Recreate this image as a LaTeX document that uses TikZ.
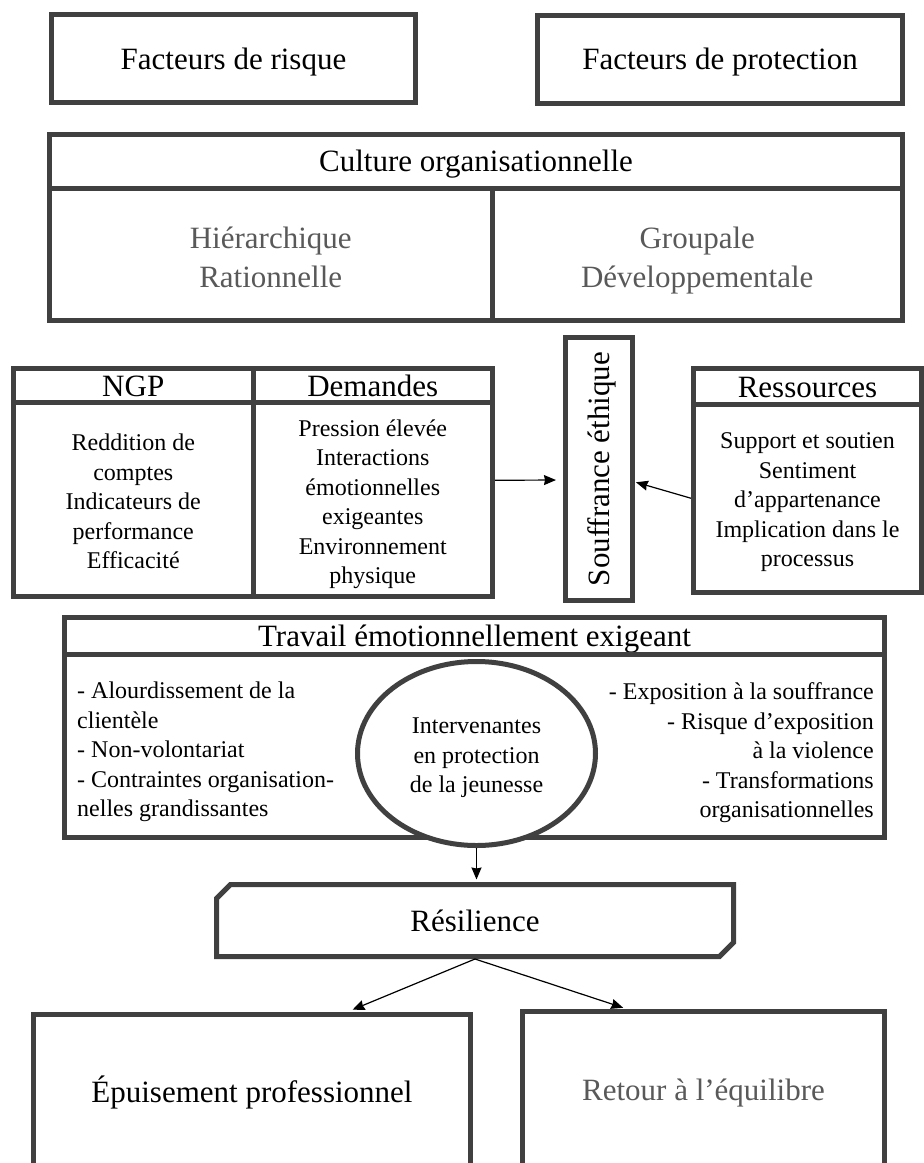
\documentclass[tikz,border=0pt]{standalone}
\usepackage{fontspec}
\setmainfont{Liberation Serif}
\usepackage{xcolor}
\usepackage{tikz}
\usetikzlibrary{shapes.geometric, shapes.misc, arrows.meta}

\definecolor{cadre}{HTML}{404040}
\definecolor{texgris}{HTML}{595959}
\newcommand{\grand}{\fontsize{31}{39}\selectfont}
\newcommand{\petit}{\fontsize{24}{29.5}\selectfont}
\newcommand{\calegrand}{\rule[-5.6pt]{0pt}{33.5pt}}
\newcommand{\calepetit}{\rule[-4.3pt]{0pt}{25.9pt}}

\tikzset{
	trait/.style = {draw = cadre, line width = 5pt, inner sep = 0pt, align = center},
	boite/.style = {trait, font = \grand, execute at begin node = \calegrand, execute at end node = \calegrand},
	corps/.style = {trait, font = \petit, execute at begin node = \calepetit, execute at end node = \calepetit},
	texte/.style = {inner sep = 0pt, font = \petit},
	lignes/.style = {text height = #1, text depth = 0pt},
	fleche/.style = {-{Stealth[length = 12pt, width = 10pt, inset = 1pt]}, line width = 1.2pt}
}

\begin{document}
\begin{tikzpicture}[x = 1pt, y = -1pt]
		\useasboundingbox (0,0) rectangle (924,1163);
		
		\node [boite, minimum width = 364pt, minimum height = 88pt] (risque) at (233.5,58.5) {Facteurs de risque};
		\node [boite, minimum width = 365pt, minimum height = 88pt] (protection) at (720,59) {Facteurs de protection};
		
		\node [boite, minimum width = 853pt, minimum height = 53.5pt] (culture) at (476,161.25) {Culture organisationnelle};
		\node [boite, lignes = 67pt, text = texgris, minimum width = 442.5pt, minimum height = 132.5pt] (hierarchique) at (270.75,254.25) {Hiérarchique\\Rationnelle};
		\node [boite, lignes = 67pt, text = texgris, minimum width = 410.5pt, minimum height = 132.5pt] (groupale) at (697.25,254.25) {Groupale\\Développementale};
		
		\node [boite, minimum width = 239.5pt, minimum height = 33.5pt] (ngp) at (133.25,385.25) {NGP};
		\node [boite, minimum width = 239.5pt, minimum height = 33.5pt] (demandes) at (372.75,385.25) {Demandes};
		\node [corps, lignes = 139pt, minimum width = 239.5pt, minimum height = 194.5pt] (ngpcorps) at (133.25,499.25) {Reddition de\\comptes\\Indicateurs de\\performance\\Efficacité};
		\node [corps, lignes = 168.8pt, minimum width = 239.5pt, minimum height = 194.5pt] (demcorps) at (372.75,499.25) {Pression élevée\\Interactions\\émotionnelles\\exigeantes\\Environnement\\physique};
		
		\node [boite, rotate = 90, minimum width = 263pt, minimum height = 67pt] (souf) at (599,469) {Souffrance éthique};
		
		\node [boite, minimum width = 228pt, minimum height = 35.5pt] (ress) at (807.5,386.25) {Ressources};
		\node [corps, lignes = 137pt, minimum width = 228pt, minimum height = 188.5pt] (resscorps) at (807.5,498.25) {Support et soutien\\Sentiment\\d’appartenance\\Implication dans le\\processus};
		
		\draw [fleche, shorten >= 7pt] ([yshift = 19pt]demcorps.east) -- ([yshift = -11pt]souf.north);
		\draw [fleche, shorten >= 1pt] (resscorps.west) -- ([yshift = -13pt]souf.south);
		
		\node [boite, minimum width = 820pt, minimum height = 36.5pt] (travail) at (474.5,635.75) {Travail émotionnellement exigeant};
		\node [corps, minimum width = 820pt, minimum height = 183.5pt] (travcorps) at (474.5,745.75) {};
		\node [texte, lignes = 135.3pt, anchor = west, align = left] (gauche) at (77,749) {- Alourdissement de la\\clientèle\\- Non-volontariat\\- Contraintes organisation-\\nelles grandissantes};
		\node [texte, lignes = 135.3pt, anchor = east, align = right] (droite) at (874,750) {- Exposition à la souffrance\\- Risque d’exposition\\à la violence\\- Transformations\\organisationnelles};
		\node [corps, lignes = 78pt, ellipse, fill = white, minimum width = 238pt, minimum height = 184pt] (jeunes) at (476.5,753.5) {Intervenantes\\en protection\\de la jeunesse};
		
		\node [boite, chamfered rectangle, chamfered rectangle corners = {north west, south east}, chamfered rectangle xsep = 7pt, chamfered rectangle ysep = 7pt, minimum width = 517pt, minimum height = 72pt] (resilience) at (475,920.5) {Résilience};
		
		\draw [fleche, shorten >= 2.5pt] (jeunes.south) -- (jeunes.south |- resilience.north);
		
		\node [boite, minimum width = 437pt, minimum height = 155pt] (epuisement) at (252,1092) {Épuisement professionnel};
		\node [boite, text = texgris, minimum width = 362pt, minimum height = 157pt] (retour) at (703.5,1090) {Retour à l’équilibre};
		
		\draw [fleche, shorten >= 6pt] (resilience.south) -- ([xshift = 95pt]epuisement.north);
		\draw [fleche, shorten >= 4pt] (resilience.south) -- ([xshift = -76.5pt]retour.north);
	\end{tikzpicture}
\end{document}
